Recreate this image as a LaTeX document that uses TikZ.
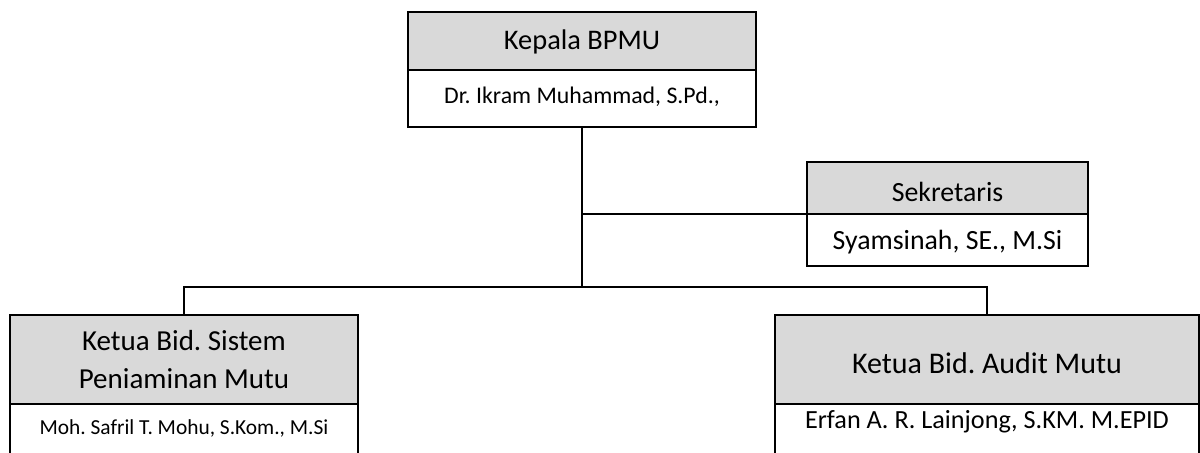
\documentclass[tikz,border=0pt]{standalone}
\usepackage{fontspec}
\setmainfont{Carlito}
\usetikzlibrary{positioning}
\frenchspacing

\definecolor{abukepala}{HTML}{D9D9D9}

\tikzset{
	kotak/.style={draw=black, line width=0.6pt, outer sep=0pt, inner sep=0pt, minimum width=#1},
	judul/.style={kotak=#1, fill=abukepala},
	nama/.style={kotak=#1, fill=white},
	garis/.style={draw=black, line width=0.7pt}
}

\newcommand{\ukuran}[1]{\fontsize{#1}{17.5}\selectfont}

\begin{document}
\begin{tikzpicture}[x=0.5pt, y=-0.5pt]

	\useasboundingbox (0,0) rectangle (1200,453);

	% kepala
	\node[judul=174pt, text height=19pt, text depth=10pt, font=\ukuran{14.2}] (kepala) at (582,41) {Kepala BPMU};
	\node[nama=174pt, text height=17pt, text depth=11.5pt, font=\ukuran{11.9}, below=0pt of kepala] (kepalanama) {Dr. Ikram Muhammad, S.Pd.,};

	% sekretaris
	\node[judul=140.5pt, text height=20pt, text depth=6pt, font=\ukuran{13.9}] (sek) at (947.5,188) {Sekretaris};
	\node[nama=140.5pt, text height=18pt, text depth=8pt, font=\ukuran{13.9}, below=0pt of sek] (seknama) {Syamsinah, SE., M.Si};

	% bidang
	\node[judul=174pt, minimum height=44.5pt, align=center, font=\ukuran{14.5}] (kiri) at (184,359.5) {Ketua Bid. Sistem\\[1.5pt]Peniaminan Mutu};
	\node[nama=174pt, text height=15.5pt, text depth=12pt, font=\ukuran{10.7}, below=0pt of kiri] (kirinama) {Moh. Safril T. Mohu, S.Kom., M.Si};

	\node[judul=212pt, text height=29.5pt, text depth=15pt, font=\ukuran{15}] (kanan) at (987,359.5) {Ketua Bid. Audit Mutu};
	\node[nama=212pt, text height=12.5pt, text depth=14pt, font=\ukuran{13.1}, below=0pt of kanan] (kanannama) {Erfan A. R. Lainjong, S.KM. M.EPID};

	% garis
	\draw[garis] (kepalanama.south) -- ++(0,160) coordinate (cabang);
	\draw[garis] (sek.south west) -- (sek.south west -| cabang);
	\draw[garis] (kiri.north) |- (cabang) -| (kanan.north);

\end{tikzpicture}
\end{document}
